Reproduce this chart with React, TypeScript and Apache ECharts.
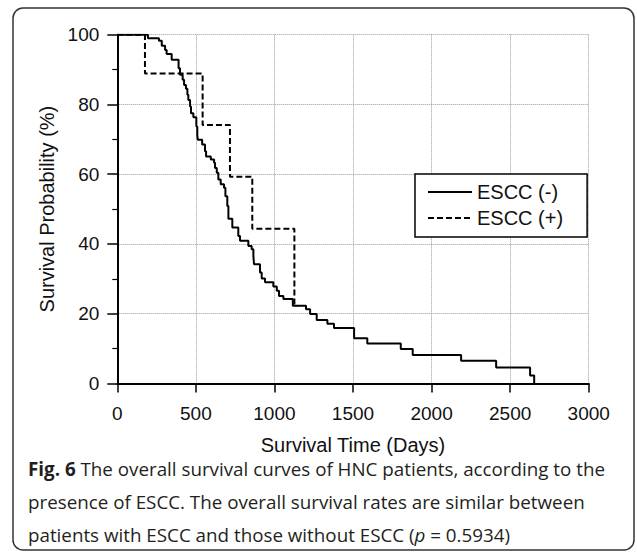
import React, { useEffect, useRef } from "react";
import * as echarts from "echarts";

const seriesNames = ["ESCC (-)", "ESCC (+)"];
const xTitle = "Survival Time (Days)";
const yTitle = "Survival Probability (%)";

// ESCC (-): day of each drop and survival (%) after it
const negDays = [0, 195, 265, 283, 304, 314, 346, 390, 399, 416, 425, 437, 446, 452, 463, 469, 484, 503, 509, 512, 540, 558, 565, 595, 616, 622, 633, 643, 658, 679, 688, 700, 707, 732, 770, 781, 834, 855, 866, 870, 908, 919, 940, 993, 1015, 1029, 1057, 1117, 1201, 1227, 1269, 1337, 1379, 1507, 1591, 1804, 1880, 2188, 2411, 2627, 2653];
const negSurv = [100, 99.0, 98.3, 96.8, 95.6, 94.5, 92.8, 90.4, 88.5, 87.1, 85.6, 84.5, 82.8, 81.3, 79.4, 77.5, 76.3, 73.7, 71.3, 69.9, 68.5, 66.6, 65.1, 64.2, 63.3, 61.8, 60.4, 58.5, 57.1, 56.1, 53.7, 50.9, 47.2, 44.7, 42.3, 40.9, 39.4, 38.5, 36.6, 34.2, 31.8, 30.1, 29.0, 27.8, 26.6, 25.1, 24.2, 22.3, 21.3, 19.9, 18.2, 17.1, 15.9, 13.0, 11.5, 9.9, 8.2, 6.5, 4.6, 2.3, 0];

// ESCC (+)
const posDays = [0, 176, 543, 717, 859, 1127, 1140];
const posSurv = [100, 88.9, 74.1, 59.3, 44.4, 22.2, 22.2];

const captionLines = [
  "{b|Fig. 6} The overall survival curves of HNC patients, according to the",
  "presence of ESCC. The overall survival rates are similar between",
  "patients with ESCC and those without ESCC ({i|p} = 0.5934)",
];

const font = "'Liberation Sans', Arial, Helvetica, sans-serif";
const capFont = "'Open Sans', 'Noto Sans', sans-serif";
const capSize = 18.8;

export default function App() {
  const ref = useRef<HTMLDivElement>(null);
  useEffect(() => {
    const chart = echarts.init(ref.current!, null, { renderer: "svg" });
    const pairs = (d: number[], s: number[]) => d.map((x, i) => [x, s[i]]);
    chart.setOption({
      animation: false,
      backgroundColor: "#fff",
      textStyle: { fontFamily: font },
      grid: { left: 117.3, top: 34.7, width: 471.4, height: 348.8 },
      xAxis: {
        type: "value",
        min: 0,
        max: 3000,
        interval: 500,
        name: xTitle,
        nameLocation: "middle",
        nameGap: 51,
        nameTextStyle: { fontSize: 20, color: "#111", fontFamily: font },
        axisLine: { show: true, onZero: false, lineStyle: { color: "#000", width: 2 } },
        axisTick: { show: true, inside: false, length: 9, lineStyle: { color: "#000", width: 1.5 } },
        axisLabel: { fontSize: 19, color: "#111", margin: 20, fontFamily: font, formatter: (v: number) => String(v) },
        splitLine: { show: true, lineStyle: { color: "#9a9a9a", type: [1, 1], width: 1 } },
      },
      yAxis: {
        type: "value",
        min: 0,
        max: 100,
        interval: 20,
        name: yTitle,
        nameLocation: "middle",
        nameGap: 58,
        nameRotate: 90,
        nameTextStyle: { fontSize: 20, color: "#111", fontFamily: font },
        axisLine: { show: true, onZero: false, lineStyle: { color: "#000", width: 2 } },
        axisTick: { show: true, inside: false, length: 10, lineStyle: { color: "#000", width: 1.5 } },
        minorTick: { show: true, splitNumber: 2, length: 5, lineStyle: { color: "#000", width: 1.2 } },
        axisLabel: { fontSize: 19, color: "#111", margin: 18, fontFamily: font },
        splitLine: { show: true, lineStyle: { color: "#9a9a9a", type: [1, 1], width: 1 } },
      },
      legend: {
        orient: "vertical",
        left: 415,
        top: 174,
        data: seriesNames,
        backgroundColor: "#fff",
        borderColor: "#000",
        borderWidth: 1.5,
        padding: [8, 24, 9, 12],
        itemWidth: 44,
        itemHeight: 14,
        itemGap: 6,
        itemStyle: { color: "rgba(0,0,0,0)", borderWidth: 0, opacity: 0 },
        textStyle: { fontSize: 20, color: "#111", fontFamily: font },
      },
      series: [
        {
          name: seriesNames[0],
          type: "line",
          step: "end",
          symbol: "none",
          data: pairs(negDays, negSurv),
          lineStyle: { color: "#000", width: 2 },
          itemStyle: { color: "#000" },
          z: 3,
        },
        {
          name: seriesNames[1],
          type: "line",
          step: "end",
          symbol: "none",
          data: pairs(posDays, posSurv),
          lineStyle: { color: "#000", width: 2, type: [6, 3] },
          itemStyle: { color: "#000" },
          z: 2,
        },
      ],
      graphic: [
        {
          type: "rect",
          shape: { x: 13, y: 8, width: 621, height: 542, r: 10 },
          style: { fill: "none", stroke: "#333", lineWidth: 1.5 },
          silent: true,
        },
        ...captionLines.map((t, i) => ({
          type: "text",
          x: 28,
          y: 469 + i * 33,
          silent: true,
          style: {
            text: t,
            fill: "#231f20",
            fontSize: capSize,
            fontFamily: capFont,
            verticalAlign: "middle",
            align: "left",
            rich: {
              b: { fontWeight: "bold", fontSize: capSize, fontFamily: capFont, fill: "#231f20" },
              i: { fontStyle: "italic", fontSize: capSize, fontFamily: capFont, fill: "#231f20" },
            },
          },
        })),
      ],
    });
    return () => chart.dispose();
  }, []);
  return <div ref={ref} style={{ position: "absolute", left: 0, top: 0, width: 637, height: 557 }} />;
}
